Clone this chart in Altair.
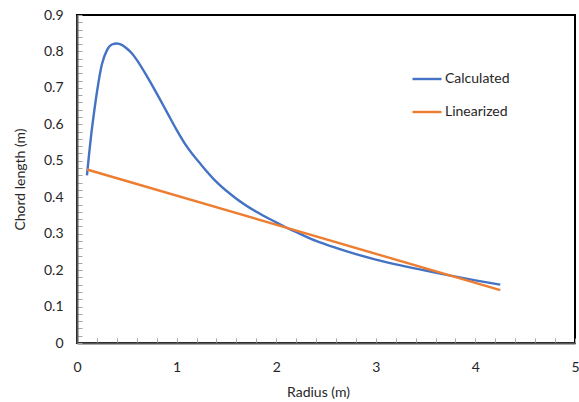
import altair as alt
import pandas as pd
import numpy as np

# Calculated chord length vs radius
calc_r = [0.10, 0.12, 0.14, 0.17, 0.20, 0.25, 0.30, 0.35, 0.40, 0.45, 0.50, 0.55, 0.60,
          0.70, 0.80, 0.90, 1.00, 1.10, 1.25, 1.40, 1.60, 1.80, 2.00, 2.10, 2.25,
          2.40, 2.60, 2.80, 3.00, 3.25, 3.50, 3.75, 4.00, 4.25]
calc_c = [0.460, 0.515, 0.565, 0.630, 0.688, 0.765, 0.803, 0.819, 0.822, 0.818, 0.808, 0.795, 0.777,
          0.733, 0.685, 0.635, 0.585, 0.540, 0.488, 0.442, 0.396, 0.360, 0.331, 0.317, 0.298,
          0.280, 0.261, 0.244, 0.229, 0.213, 0.199, 0.185, 0.172, 0.160]

# Linearized chord length
lin_r = [0.10, 4.25]
lin_c = [0.476, 0.145]

series_names = ["Calculated", "Linearized"]
series_colors = ["#4472C4", "#ED7D31"]

x_labels = [0, 1, 2, 3, 4, 5]
y_labels = [0, 0.1, 0.2, 0.3, 0.4, 0.5, 0.6, 0.7, 0.8, 0.9]
x_minor = [round(v, 2) for v in np.arange(0, 5.01, 0.2)]
y_minor = [round(v, 2) for v in np.arange(0, 0.901, 0.02)]

df = pd.concat([
    pd.DataFrame({"r": calc_r, "c": calc_c, "s": series_names[0], "o": range(len(calc_r))}),
    pd.DataFrame({"r": lin_r, "c": lin_c, "s": series_names[1], "o": range(len(lin_r))}),
])

FONT = "Lato"
FS = 14
W, H = 498, 328

xs = alt.Scale(domain=[0, 5], nice=False, zero=False)
ys = alt.Scale(domain=[0, 0.9], nice=False, zero=False)

lines = alt.Chart(df).mark_line(strokeWidth=2.4, interpolate="monotone").encode(
    x=alt.X("r:Q", scale=xs, axis=alt.Axis(
        values=x_labels, format="~g", ticks=False, grid=False, labelFlush=False,
        domainColor="#595959", domainWidth=2, labelPadding=17,
        labelFontSize=FS, labelColor="#262626", labelFont=FONT,
        title="Radius (m)", titleFont=FONT, titleFontSize=FS, titleFontWeight="normal",
        titleColor="#262626", titlePadding=11, titleX=241)),
    y=alt.Y("c:Q", scale=ys, axis=alt.Axis(
        values=y_labels, format=".1~f", ticks=False, grid=False, labelFlush=False,
        domainColor="#595959", domainWidth=2, labelPadding=14,
        labelFontSize=FS, labelColor="#262626", labelFont=FONT,
        title="Chord length (m)", titleFont=FONT, titleFontSize=FS, titleFontWeight="normal",
        titleColor="#262626", titlePadding=16)),
    color=alt.Color("s:N", scale=alt.Scale(domain=series_names, range=series_colors),
                    legend=alt.Legend(title=None, orient="none", legendX=334, legendY=48,
                                      symbolType="stroke", symbolSize=841, symbolStrokeWidth=2.4,
                                      labelFont=FONT, labelFontSize=FS, labelColor="#262626",
                                      labelOffset=2, rowPadding=10)),
    order="o:Q",
)

ticks = alt.Chart(df).mark_point(opacity=0).encode(
    x=alt.X("r:Q", scale=xs, axis=alt.Axis(
        orient="top", offset=-H, values=x_minor, labels=False, domain=False,
        grid=False, tickSize=5, tickColor="#a6a6a6", tickWidth=1, title=None)),
    y=alt.Y("c:Q", scale=ys, axis=alt.Axis(
        orient="right", offset=-W, values=y_minor, labels=False, domain=False,
        grid=False, tickSize=5, tickColor="#a6a6a6", tickWidth=1, title=None)),
)

chart = alt.layer(ticks, lines).resolve_axis(x="independent", y="independent").properties(
    width=W, height=H,
    autosize=alt.AutoSizeParams(type="none"),
    padding={"left": 77, "top": 15, "right": 4, "bottom": 59},
    background="white",
).configure_view(stroke="black", strokeWidth=2)

chart.save("out.html", embed_options={"renderer": "svg", "actions": False})
